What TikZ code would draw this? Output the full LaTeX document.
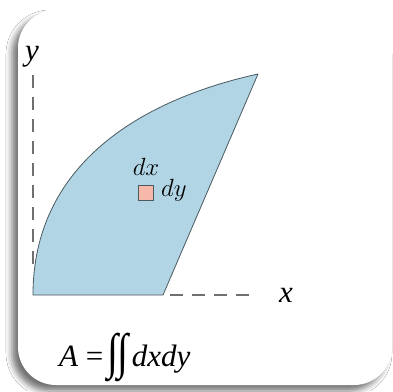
\documentclass[tikz,border=0pt]{standalone}
\usepackage{fontspec}
\usepackage{graphicx}
\usetikzlibrary{shadows.blur}
\newfontfamily\timesf{Liberation Serif}
\definecolor{regionblue}{HTML}{B2D5E5}
\definecolor{edgegray}{HTML}{4A5A60}
\definecolor{pinkbox}{HTML}{F6B8A8}
\definecolor{axisgray}{HTML}{707070}
\newcommand{\myint}{\raisebox{-0.08em}{\scalebox{1.3}[1.6]{∫}}}
\tikzset{
  card/.style={fill=white, rounded corners=38pt, blur shadow={shadow xshift=-6pt, shadow yshift=-6pt, shadow blur radius=6pt, shadow opacity=55}},
  region/.style={fill=regionblue, draw=edgegray, line width=0.8pt, line join=round},
  axisline/.style={draw=axisgray, line width=1.3pt, dash pattern=on 13pt off 9pt},
  lbl/.style={inner sep=0pt, font=\timesf\itshape\fontsize{31}{31}\selectfont},
  small/.style={inner sep=0pt, font=\fontsize{24}{24}\selectfont},
}
\begin{document}
\begin{tikzpicture}[x=1pt,y=-1pt]
\useasboundingbox (0,0) rectangle (393,391);
\fill[white] (0,0) rectangle (393,391);
\path[card] (18,10) rectangle (392,385);
% axes
\coordinate (o) at (33,295);
\coordinate (ytop) at (33,75);
\coordinate (b) at (163,295);
\coordinate (xend) at (258,295);
\coordinate (t) at (258,74);
\draw[axisline] (ytop) -- ++(0,195);
\draw[axisline] (170,295) -- (xend);
% region
\path[region] (o) .. controls (33,165) and (140,100) .. (t) -- (b) -- cycle;
% element
\node[draw=edgegray, fill=pinkbox, minimum size=15pt, inner sep=0pt, line width=0.8pt] (sq) at (146,193) {};
\node[small, anchor=base] (dx) at (146,175) {$dx$};
\node[small, anchor=base west] (dy) at (161,196) {$dy$};
% labels
\node[lbl, anchor=base] (ylbl) at (32,60) {y};
\node[lbl, anchor=base] (xlbl) at (286,302) {x};
\node[inner sep=0pt, anchor=base west, font=\timesf\fontsize{31}{31}\selectfont] (formula) at (59,366) {\textit{A}\kern0.25em=\kern0.12em\myint\kern-0.02em\myint\kern0.1em\textit{dxdy}};
\end{tikzpicture}
\end{document}
